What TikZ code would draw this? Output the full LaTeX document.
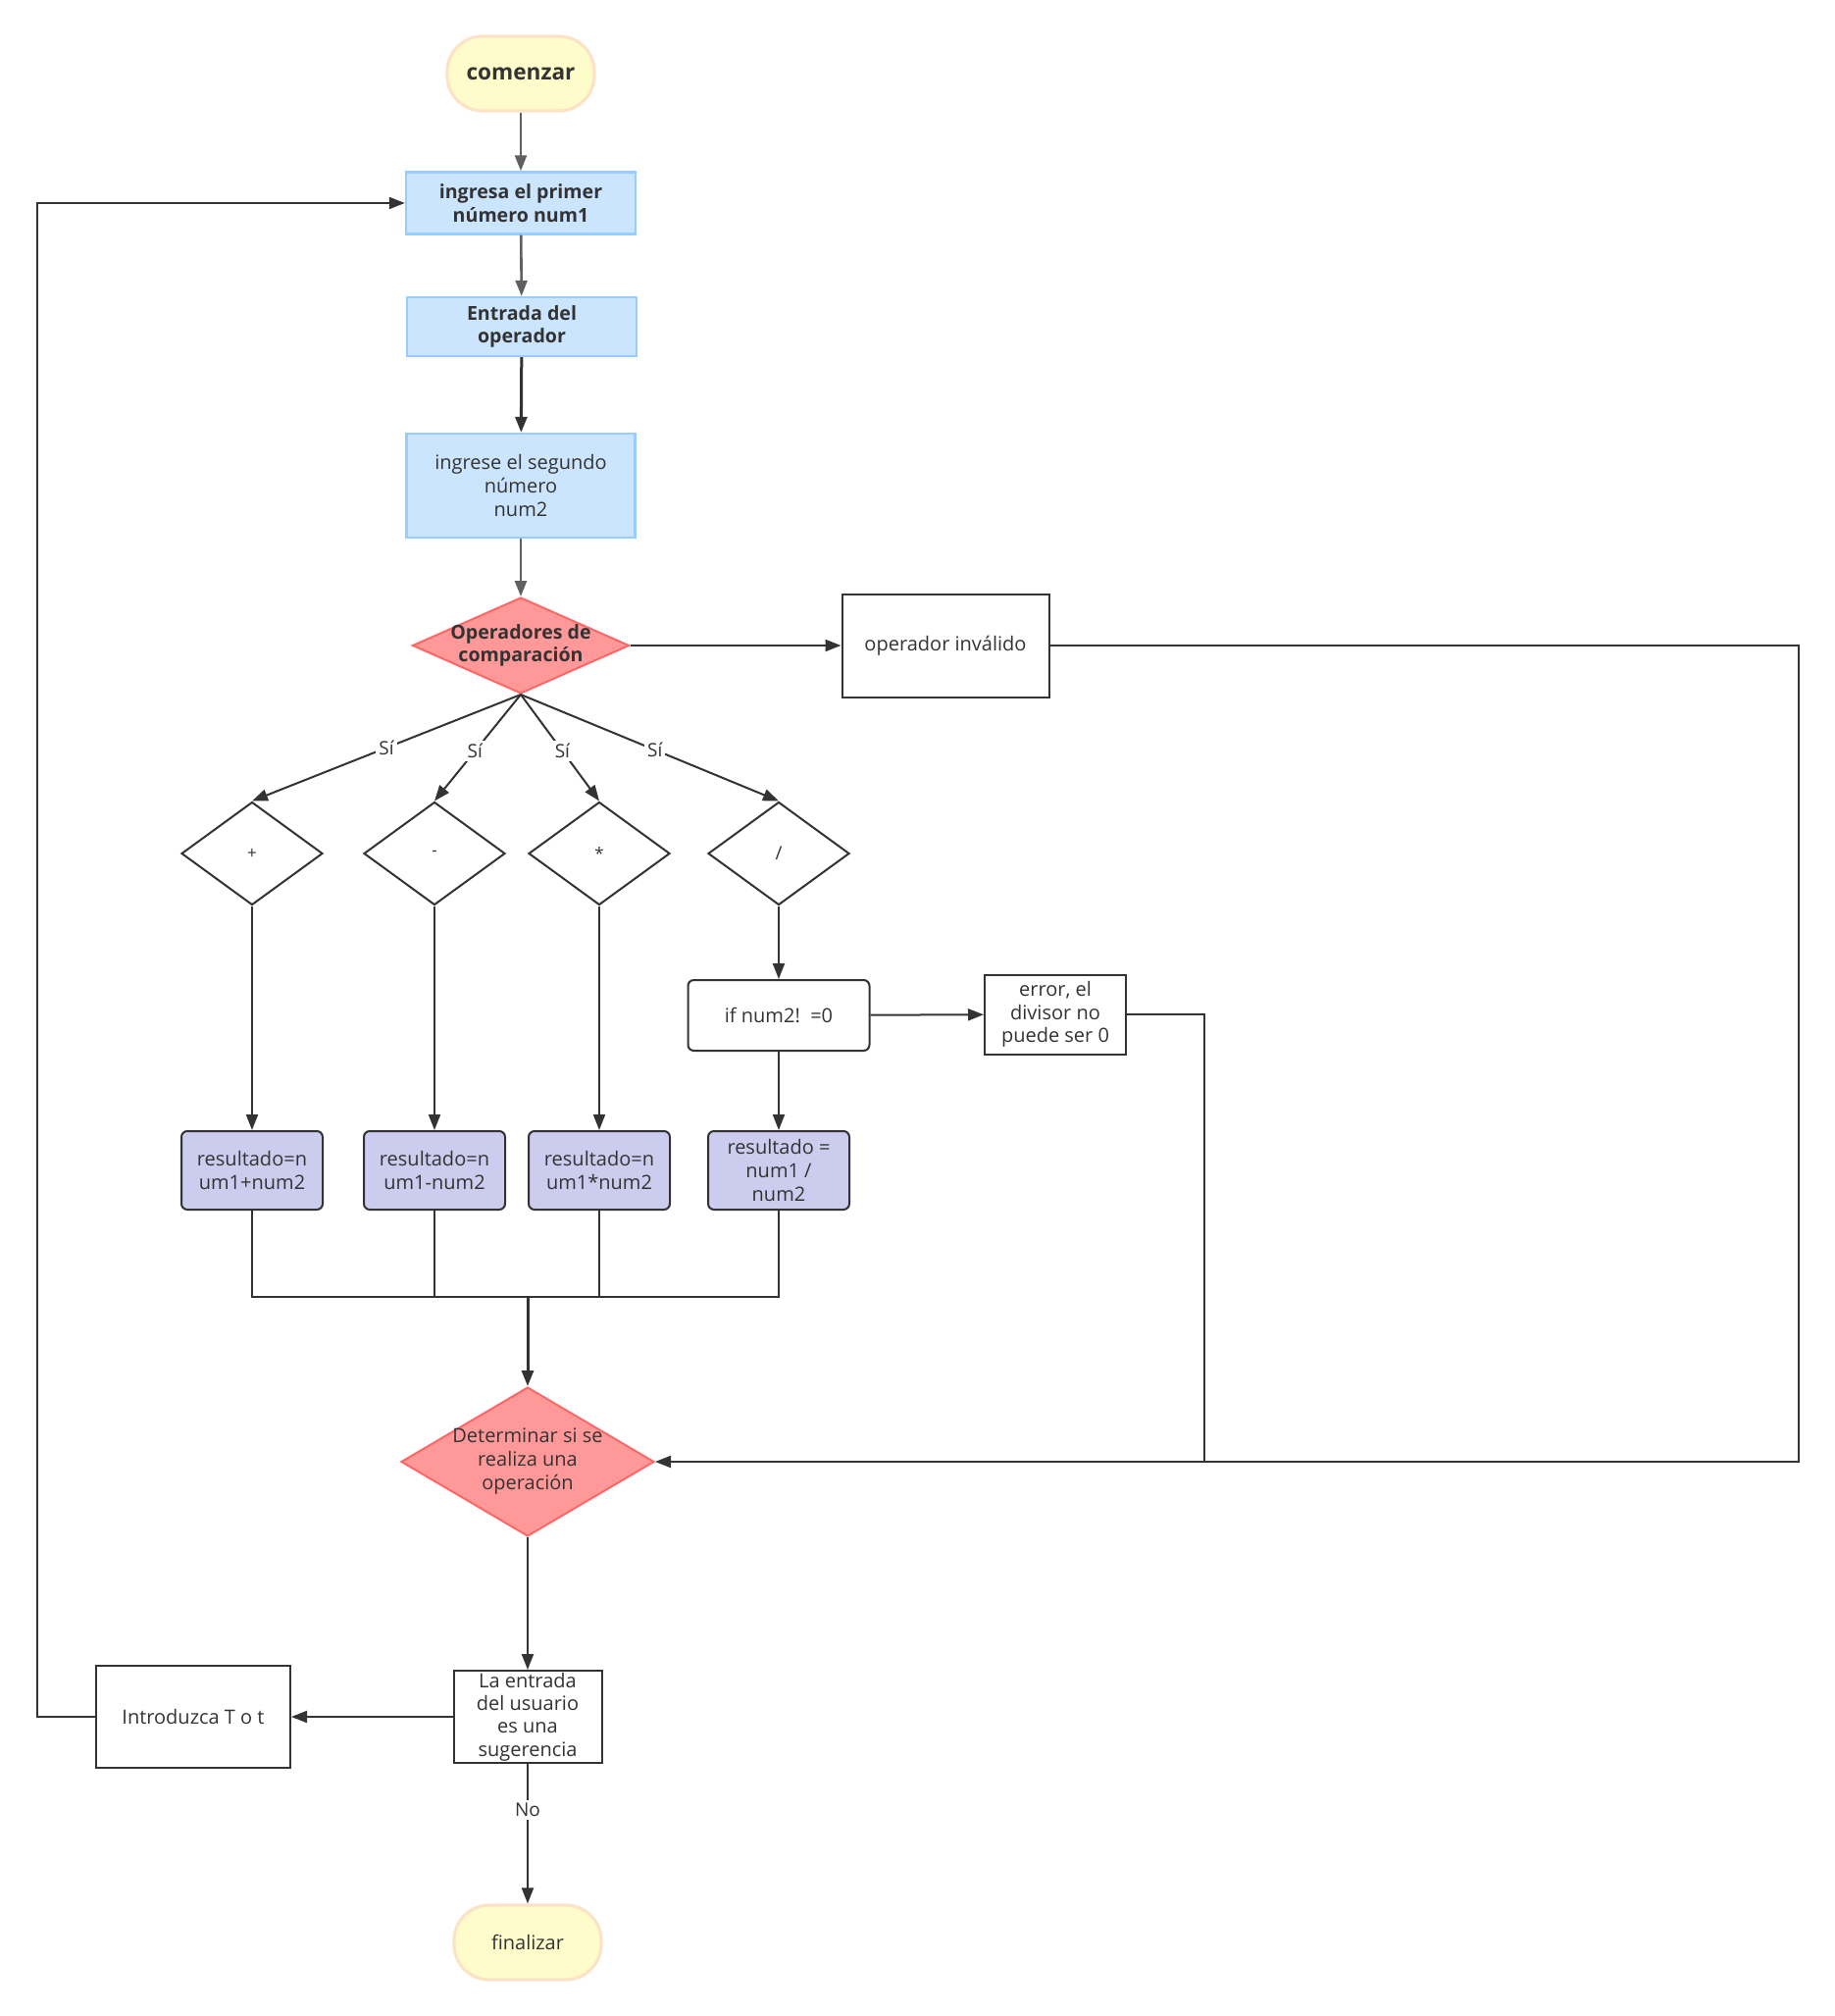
\documentclass[tikz,border=0pt]{standalone}
\usepackage{fontspec}
\setmainfont{Open Sans}
\usetikzlibrary{shapes.geometric,arrows.meta}
\definecolor{ink}{HTML}{333333}
\definecolor{gline}{HTML}{606060}
\definecolor{termfill}{HTML}{FFFCCC}
\definecolor{termdraw}{HTML}{FDE3C6}
\definecolor{bluefill}{HTML}{CCE5FF}
\definecolor{bluedraw}{HTML}{99CCFF}
\definecolor{redfill}{HTML}{FF9999}
\definecolor{reddraw}{HTML}{FF6666}
\definecolor{lavfill}{HTML}{CCCCEE}
\tikzset{
  base/.style={text=ink, align=center, inner sep=1pt, font=\fontsize{10}{12}\selectfont},
  term/.style={base, rectangle, rounded corners=18pt, fill=termfill, draw=termdraw, line width=1.6pt, minimum width=75pt, minimum height=38pt},
  bluebox/.style={base, rectangle, fill=bluefill, draw=bluedraw, line width=1.2pt, minimum width=117pt},
  plainbox/.style={base, rectangle, draw=ink, line width=1pt, fill=white},
  resbox/.style={base, rectangle, rounded corners=3pt, draw=ink, line width=1pt, fill=lavfill, minimum width=72pt, minimum height=40pt},
  reddia/.style={diamond, fill=redfill, draw=reddraw, line width=1pt, inner sep=0pt},
  smalldia/.style={base, diamond, draw=ink, line width=1pt, fill=white, inner sep=0pt, minimum width=72pt, minimum height=52.5pt, font=\fontsize{8.5}{9}\selectfont},
  dialabel/.style={base},
  bold/.style={font=\fontsize{9.8}{11.8}\selectfont\bfseries},
  conn/.style={draw=ink, line width=1pt},
  arrow/.style={conn, -{Triangle[length=8pt,width=6pt]}},
  garrow/.style={draw=gline, line width=1.3pt, -{Triangle[length=8pt,width=6pt]}},
  lbl/.style={text=ink, fill=white, inner sep=1.5pt, font=\fontsize{9.5}{11}\selectfont}
}
\begin{document}
\begin{tikzpicture}[x=0.5pt,y=-0.5pt]
\useasboundingbox[fill=white] (0,0) rectangle (1871,2055);

% nodes
\node[term, font=\fontsize{11.3}{13}\selectfont\bfseries] (start) at (531,75) {comenzar};
\node[bluebox, bold, minimum height=31.5pt] (in1) at (531,207) {ingresa el primer\\número num1};
\node[bluebox, bold, minimum height=30pt] (oper) at (532,333) {Entrada del\\operador};
\node[bluebox, minimum width=116.5pt, minimum height=53pt] (in2) at (531,495) {ingrese el segundo\\número\\num2};
\node[reddia, minimum width=110.5pt, minimum height=49pt] (cmp) at (531,658) {};
\node[dialabel, bold] (cmpT) at (531,658) {Operadores de\\comparación};
\node[plainbox, minimum width=105.5pt, minimum height=52.5pt] (inv) at (964,658) {operador inválido};

\node[smalldia] (d1) at (257,870) {+};
\node[smalldia] (d2) at (443,870) {-};
\node[smalldia] (d3) at (611,870) {*};
\node[smalldia, font=\fontsize{9.5}{10}\selectfont] (d4) at (794,870) {/};

\node[plainbox, rounded corners=3pt, minimum width=92.5pt, minimum height=36pt] (ifz) at (794,1035) {if num2!\ \ =0};
\node[plainbox, inner sep=0pt, minimum width=72pt, minimum height=40.5pt, font=\fontsize{10}{11.8}\selectfont] (err) at (1076,1034) {error, el\\divisor no\\puede ser 0};

\node[resbox] (r1) at (257,1193) {resultado=n\\um1+num2};
\node[resbox] (r2) at (443,1193) {resultado=n\\um1-num2};
\node[resbox] (r3) at (611,1193) {resultado=n\\um1*num2};
\node[resbox, inner sep=0pt] (r4) at (794,1193) {resultado =\\num1 /\\num2};

\node[reddia, minimum width=129pt, minimum height=76pt] (det) at (538,1490) {};
\node[dialabel] (detT) at (538,1490) {Determinar si se\\realiza una\\operación};

\node[plainbox, inner sep=0pt, minimum width=75.5pt, minimum height=47pt, font=\fontsize{10}{11.6}\selectfont] (ue) at (538,1750) {La entrada\\del usuario\\es una\\sugerencia};
\node[plainbox, minimum width=99pt, minimum height=52pt] (intro) at (197,1750) {Introduzca T o t};
\node[term, rounded corners=18pt] (fin) at (538,1980) {finalizar};

\coordinate (mrg) at (538,1322);
\coordinate (rc) at (1834,1490);
\coordinate (ej) at (1228,1490);
\coordinate (lb) at (38,1750);

% connectors
\draw[garrow] (start) -- (in1);
\draw[garrow] (in1) -- (oper);
\draw[arrow, line width=1.5pt] (oper) -- (in2);
\draw[garrow] (in2) -- (cmp.north);
\draw[arrow] (cmp.east) -- (inv.west);

\draw[arrow] (cmp.south) -- node[lbl, pos=0.5]{Sí} (d1.north);
\draw[arrow] (cmp.south) -- node[lbl, pos=0.53]{Sí} (d2.north);
\draw[arrow] (cmp.south) -- node[lbl, pos=0.53]{Sí} (d3.north);
\draw[arrow] (cmp.south) -- node[lbl, pos=0.52]{Sí} (d4.north);

\draw[arrow] (d1) -- (r1);
\draw[arrow] (d2) -- (r2);
\draw[arrow] (d3) -- (r3);
\draw[arrow] (d4) -- (ifz);
\draw[arrow] (ifz) -- (r4);
\draw[arrow] (ifz) -- (err);

\draw[conn] (r1.south) |- (mrg);
\draw[conn] (r4.south) |- (mrg);
\draw[conn] (r2.south) -- (r2.south |- mrg);
\draw[conn] (r3.south) -- (r3.south |- mrg);
\draw[arrow, line width=1.5pt] (mrg) -- (det.north);

\draw[arrow] (inv.east) -| (rc) -- (det.east);
\draw[conn] (err.east) -| (ej);

\draw[arrow] (det.south) -- (ue.north);
\draw[arrow] (ue.west) -- (intro.east);
\draw[arrow] (intro.west) -- (lb) |- (in1.west);
\draw[arrow] (ue.south) -- node[lbl, pos=0.33]{No} (fin.north);
\end{tikzpicture}
\end{document}
